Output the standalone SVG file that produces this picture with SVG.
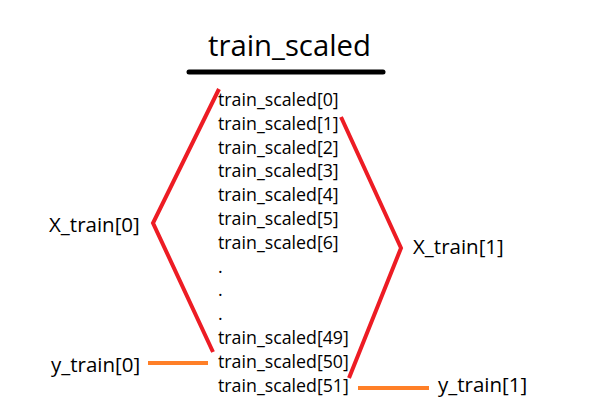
<svg xmlns="http://www.w3.org/2000/svg" width="595" height="417" viewBox="0 0 595 417">
<style>
text{font-family:"Open Sans","Noto Sans",sans-serif;fill:#000}
.item{font-size:17.8px}
.lbl{font-size:20.5px}
.title{font-size:29.3px}
.red{stroke:#ED1C24;stroke-width:4;fill:none;stroke-linejoin:miter}
.org{stroke:#FF7F27;stroke-width:4;fill:none}
</style>
<rect width="595" height="417" fill="#fff"/>
<g id="title">
<text class="title" x="208" y="56">train_scaled</text>
<line x1="189" y1="72" x2="383" y2="72" stroke="#000" stroke-width="5" stroke-linecap="round"/>
</g>
<g id="list">
<text class="item" x="218" y="106">train_scaled[0]</text>
<text class="item" x="218" y="129.8">train_scaled[1]</text>
<text class="item" x="218" y="153.6">train_scaled[2]</text>
<text class="item" x="218" y="177.4">train_scaled[3]</text>
<text class="item" x="218" y="201.2">train_scaled[4]</text>
<text class="item" x="218" y="225">train_scaled[5]</text>
<text class="item" x="218" y="248.8">train_scaled[6]</text>
<text class="item" x="218" y="272.6">.</text>
<text class="item" x="218" y="296.4">.</text>
<text class="item" x="218" y="320.2">.</text>
<text class="item" x="218" y="344">train_scaled[49]</text>
<text class="item" x="218" y="367.8">train_scaled[50]</text>
<text class="item" x="218" y="391.6">train_scaled[51]</text>
</g>
<g id="X_train0"><text class="lbl" x="49" y="232">X_train[0]</text></g>
<g id="X_train1"><text class="lbl" x="413" y="254">X_train[1]</text></g>
<g id="y_train0"><text class="lbl" x="51" y="372">y_train[0]</text></g>
<g id="y_train1"><text class="lbl" x="438" y="392">y_train[1]</text></g>
<g id="connectors">
<polyline class="red" points="219,89 153,223 213,352"/>
<polyline class="red" points="341,117 401,248 349,378"/>
<line class="org" x1="148" y1="363" x2="208" y2="363"/>
<line class="org" x1="358" y1="388" x2="429" y2="388"/>
</g>
</svg>
